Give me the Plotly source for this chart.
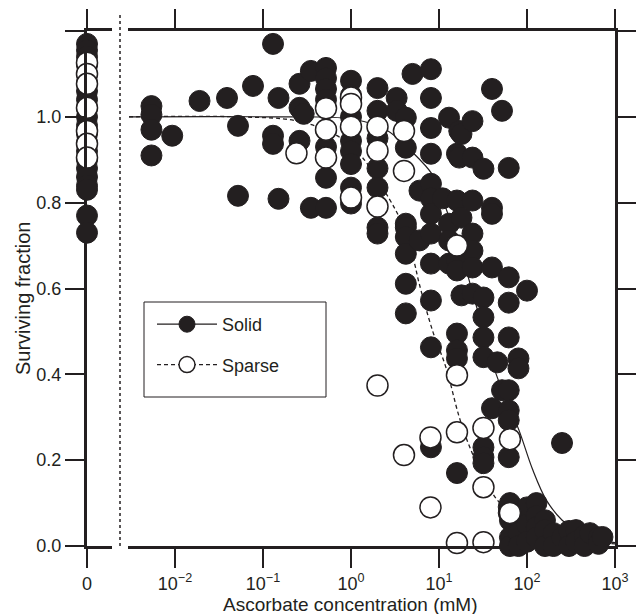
import plotly.graph_objects as go

# ---------------- data ----------------
# control (0 mM) panel
ctrl_solid_y = [1.17, 1.155, 1.14, 1.12, 1.10, 1.08, 1.06, 1.04, 1.02, 1.0, 0.98, 0.96,
                0.94, 0.92, 0.90, 0.88, 0.86, 0.84, 0.83, 0.77, 0.73]
ctrl_sparse_y = [1.126, 1.10, 1.077, 1.021, 0.967, 0.937, 0.905]

# Solid cultures: concentration (mM) -> surviving fractions
solid_conc = [0.0054, 0.0093, 0.019, 0.039, 0.052, 0.077, 0.13, 0.15, 0.26, 0.29, 0.35,
              0.52, 1.0, 2.0, 3.3, 4.2, 5.0, 6.0, 8.1, 11, 13, 16, 17, 18, 24, 32, 40,
              46, 52, 62, 64, 80, 100, 128, 160, 200, 250, 300, 360, 450, 520, 650, 720]
solid_vals = [
    [1.025, 1.005, 0.97, 0.91],
    [0.956],
    [1.037],
    [1.044],
    [0.979, 0.816],
    [1.072],
    [1.17, 0.956, 0.937],
    [1.044, 0.809],
    [1.077, 1.021, 0.944],
    [1.007],
    [1.107, 0.788],
    [1.114, 1.09, 1.065, 1.04, 0.97, 0.93, 0.858, 0.788],
    [1.084, 1.05, 1.0, 0.944, 0.92, 0.89, 0.835, 0.798],
    [1.067, 1.014, 0.95, 0.88, 0.835, 0.742, 0.728],
    [1.044, 1.014],
    [0.998, 0.928, 0.751, 0.742, 0.72, 0.681, 0.611, 0.542],
    [1.1],
    [0.828, 0.712],
    [1.111, 1.044, 0.974, 0.914, 0.844, 0.81, 0.774, 0.728, 0.658, 0.572, 0.463, 0.23],
    [0.81],
    [0.998, 0.751, 0.712, 0.658],
    [0.914, 0.805, 0.665, 0.642, 0.495, 0.456, 0.437, 0.17],
    [0.967, 0.905],
    [0.96, 0.765, 0.584],
    [0.99, 0.905, 0.805, 0.728, 0.688, 0.649, 0.588],
    [0.879, 0.579, 0.533, 0.486, 0.44, 0.23, 0.207, 0.193],
    [1.065, 0.788, 0.774, 0.649, 0.321],
    [0.428],
    [1.014, 0.363],
    [0.881, 0.626, 0.567, 0.486, 0.363, 0.316, 0.293, 0.207, 0.091, 0.077],
    [0.1, 0.06, 0.02, 0.0],
    [0.437, 0.414, 0.08, 0.06, 0.03, 0.0],
    [0.595, 0.09, 0.05, 0.01, -0.01],
    [0.1, 0.07, 0.044, 0.02, -0.01],
    [0.06, 0.037, 0.0, -0.015],
    [0.03, 0.0, -0.01],
    [0.24, 0.02, -0.005],
    [0.035, 0.0],
    [0.037, 0.01, -0.01],
    [0.025, 0.0],
    [0.03, -0.005],
    [0.02, 0.005],
    [0.021],
]

# Sparse cultures
sparse_conc = [0.24, 0.52, 1.0, 2.0, 4.0, 8.0, 16, 32, 64, 128, 256, 512]
sparse_vals = [
    [0.915],
    [1.02, 0.97, 0.905],
    [1.045, 1.03, 0.977, 0.812],
    [0.977, 0.921, 0.791, 0.374],
    [0.967, 0.874, 0.212],
    [0.253, 0.09],
    [0.70, 0.398, 0.265, 0.007],
    [0.275, 0.137, 0.009, -0.005],
    [0.249, 0.077, -0.005],
    [-0.005],
    [-0.005],
    [-0.005],
]

# fitted curves
fit_solid_x = [0.003, 0.1, 1.0, 2.5, 5.2, 8.3, 10, 18.6, 23.4, 44.7, 81, 115, 166, 251, 398, 631, 1000]
fit_solid_y = [1.0, 1.0, 0.995, 0.97, 0.914, 0.867, 0.83, 0.67, 0.60, 0.40, 0.27, 0.18, 0.107, 0.06, 0.03, 0.015, 0.008]
fit_sparse_x = [0.003, 0.05, 0.25, 0.71, 1.35, 2.7, 3.55, 4.27, 5.25, 5.9, 8.5, 12, 17, 22.4, 33.9, 49, 79.4, 158, 398, 1000]
fit_sparse_y = [1.0, 1.0, 0.99, 0.955, 0.905, 0.81, 0.765, 0.72, 0.66, 0.615, 0.50, 0.416, 0.30, 0.23, 0.15, 0.10, 0.06, 0.03, 0.012, 0.005]

y_ticks = [0.0, 0.2, 0.4, 0.6, 0.8, 1.0, 1.2]
y_ticktext = ["0.0", "0.2", "0.4", "0.6", "0.8", "1.0", ""]
x_ticks = [0.01, 0.1, 1, 10, 100, 1000]
x_ticktext = ["10<sup>\u22122</sup>", "10<sup>\u22121</sup>", "10<sup>0</sup>",
              "10<sup>1</sup>", "10<sup>2</sup>", "10<sup>3</sup>"]

# ---------------- figure ----------------
W, H = 640, 614
FONT = "Liberation Sans, Arial, sans-serif"
DARK = "#231f20"
MS = 21
FS = 18
DASH = "4px,3px"

def flat(concs, vals):
    xs, ys = [], []
    for c, vs in zip(concs, vals):
        for v in vs:
            xs.append(c)
            ys.append(v)
    return xs, ys

sx, sy = flat(solid_conc, solid_vals)
px_, py_ = flat(sparse_conc, sparse_vals)

filled_marker = dict(size=MS, color=DARK, line=dict(color=DARK, width=1))
open_marker = dict(size=MS, color="white", line=dict(color=DARK, width=1.5))

fig = go.Figure()

# fit curves
fig.add_trace(go.Scatter(x=fit_solid_x, y=fit_solid_y, mode="lines", line=dict(color=DARK, width=1.2, shape="spline"),
                         xaxis="x", yaxis="y2", showlegend=False, cliponaxis=False, hoverinfo="skip"))
fig.add_trace(go.Scatter(x=fit_sparse_x, y=fit_sparse_y, mode="lines", line=dict(color=DARK, width=1.3, dash=DASH, shape="spline"),
                         xaxis="x", yaxis="y2", showlegend=False, cliponaxis=False, hoverinfo="skip"))

# control panel
fig.add_trace(go.Scatter(x=[0] * len(ctrl_solid_y), y=ctrl_solid_y, mode="markers", marker=filled_marker,
                         xaxis="x2", yaxis="y", showlegend=False, cliponaxis=False))
fig.add_trace(go.Scatter(x=[0] * len(ctrl_sparse_y), y=ctrl_sparse_y, mode="markers", marker=open_marker,
                         xaxis="x2", yaxis="y", showlegend=False, cliponaxis=False))

# main panel points
fig.add_trace(go.Scatter(x=sx, y=sy, mode="markers", marker=filled_marker,
                         xaxis="x", yaxis="y2", showlegend=False, cliponaxis=False))
fig.add_trace(go.Scatter(x=px_, y=py_, mode="markers", marker=open_marker,
                         xaxis="x", yaxis="y2", showlegend=False, cliponaxis=False))

# legend entries
fig.add_trace(go.Scatter(x=[None], y=[None], mode="lines+markers", name="Solid", legendgroup="a",
                         line=dict(color=DARK, width=1.2), marker=filled_marker, xaxis="x", yaxis="y2"))
fig.add_trace(go.Scatter(x=[None], y=[None], mode="lines+markers", name="Sparse", legendgroup="b",
                         line=dict(color=DARK, width=1.3, dash=DASH), marker=open_marker, xaxis="x", yaxis="y2"))

y0p = (H - 546) / H
y1p = (H - 31) / H

axis_common = dict(showgrid=False, zeroline=False, linecolor=DARK, tickcolor=DARK,
                   tickfont=dict(family=FONT, size=FS, color=DARK), automargin=False)

fig.update_layout(
    width=W, height=H,
    margin=dict(l=0, r=0, t=0, b=0, pad=0),
    paper_bgcolor="white", plot_bgcolor="white",
    font=dict(family=FONT, size=FS, color=DARK),
    xaxis=dict(type="log", range=[-2.534, 3.0], domain=[128 / W, 615 / W], anchor="y2",
               showline=True, linewidth=3, mirror="allticks", ticks="outside", ticklen=19, tickwidth=1.5,
               tickvals=x_ticks, ticktext=x_ticktext, **axis_common),
    xaxis2=dict(range=[0, 1], domain=[87 / W, 112 / W], anchor="y",
                showline=True, linewidth=3, mirror="allticks", ticks="outside", ticklen=19, tickwidth=1.5,
                tickvals=[0], ticktext=["0"], **axis_common),
    yaxis=dict(range=[0, 1.2], domain=[y0p, y1p], anchor="x2",
               showline=True, linewidth=3, ticks="outside", ticklen=19, tickwidth=1.5,
               tickvals=y_ticks, ticktext=y_ticktext, **axis_common),
    yaxis2=dict(range=[0, 1.2], domain=[y0p, y1p], anchor="x", side="right", overlaying="y",
                showline=True, linewidth=3, ticks="outside", ticklen=18, tickwidth=1.5,
                tickvals=y_ticks, showticklabels=False, **axis_common),
    legend=dict(x=152 / W, y=(H - 306) / H, xanchor="left", yanchor="top",
                borderwidth=0, bgcolor="rgba(0,0,0,0)",
                font=dict(family=FONT, size=FS, color=DARK), itemwidth=60, entrywidth=150,
                tracegroupgap=14),
    shapes=[
        dict(type="line", xref="paper", yref="paper", x0=120 / W, x1=120 / W,
             y0=y0p, y1=(H - 13) / H, line=dict(color=DARK, width=1.5, dash="dot")),
        dict(type="rect", xref="paper", yref="paper", x0=144 / W, x1=326 / W,
             y0=(H - 397) / H, y1=(H - 302) / H, line=dict(color=DARK, width=1),
             fillcolor="white", layer="below"),
    ],
    annotations=[
        dict(text="Surviving fraction", xref="paper", yref="paper", x=23 / W, y=(H - 299) / H,
             xanchor="center", yanchor="middle",
             textangle=-90, showarrow=False, font=dict(family=FONT, size=20, color=DARK)),
        dict(text="Ascorbate concentration (mM)", xref="paper", yref="paper", x=350 / W, y=(H - 604) / H,
             xanchor="center", yanchor="middle",
             showarrow=False, font=dict(family=FONT, size=19, color=DARK)),
    ],
)

fig.write_html("out.html", config={"displayModeBar": False},
               post_script="document.body.style.margin='0';document.body.style.overflow='hidden';")
